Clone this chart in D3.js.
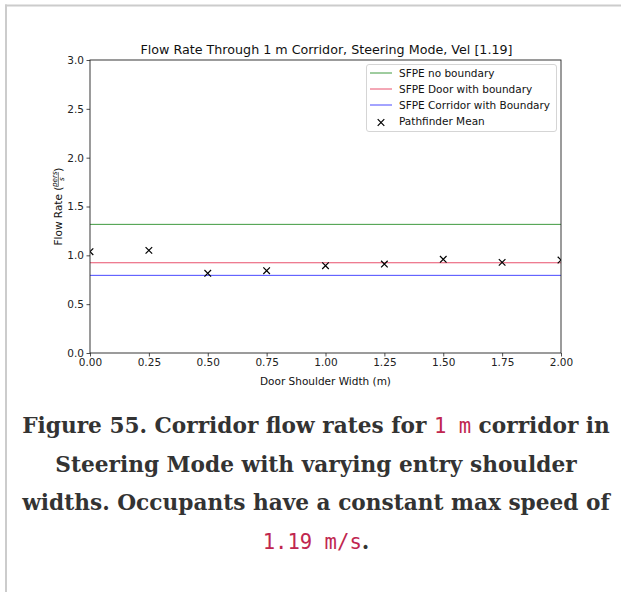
<!DOCTYPE html>
<html>
<head>
<meta charset="utf-8">
<script src="https://cdn.jsdelivr.net/npm/d3@7"></script>
<style>
  html, body { margin: 0; padding: 0; background: #fff; }
  svg { display: block; }
</style>
</head>
<body>
<svg id="chart" width="621" height="592"></svg>
<script>
// ---- data ----
const shoulderWidths = [0.00, 0.25, 0.50, 0.75, 1.00, 1.25, 1.50, 1.75, 2.00];
const pathfinderMean = [1.037, 1.051, 0.816, 0.843, 0.894, 0.911, 0.959, 0.928, 0.952];
const sfpeNames = ["SFPE no boundary", "SFPE Door with boundary", "SFPE Corridor with Boundary"];
const sfpeValues = [1.317, 0.924, 0.795];
const sfpeColors = ["#3f9a3f", "#e8506c", "#4848ff"];
const xTicks = [0, 0.25, 0.5, 0.75, 1.0, 1.25, 1.5, 1.75, 2.0];
const yTicks = [0, 0.5, 1.0, 1.5, 2.0, 2.5, 3.0];
const titleText = "Flow Rate Through 1 m Corridor, Steering Mode, Vel [1.19]";
const xLabelText = "Door Shoulder Width (m)";
const meanLabel = "Pathfinder Mean";

const svg = d3.select("#chart");
const sans = "DejaVu Sans, sans-serif";
const fs = 10.5;

// page frame
svg.append("line").attr("x1", 5).attr("x2", 621).attr("y1", 5.5).attr("y2", 5.5)
  .attr("stroke", "#cccccc").attr("stroke-width", 2);
svg.append("line").attr("x1", 6).attr("x2", 6).attr("y1", 4.5).attr("y2", 592)
  .attr("stroke", "#cccccc").attr("stroke-width", 2);

const L = 90, R = 561, T = 60, B = 353;
const x = d3.scaleLinear().domain([0, 2]).range([L, R]);
const y = d3.scaleLinear().domain([0, 3]).range([B, T]);

// reference lines
const g = svg.append("g");
sfpeValues.forEach((v, i) => {
  g.append("line").attr("x1", x(0)).attr("x2", x(2)).attr("y1", y(v)).attr("y2", y(v))
    .attr("stroke", sfpeColors[i]).attr("stroke-width", 1);
});

// markers
svg.append("defs").append("clipPath").attr("id", "plotclip")
  .append("rect").attr("x", L).attr("y", T).attr("width", R - L).attr("height", B - T);
const mk = 3.3;
const pts = g.append("g").attr("clip-path", "url(#plotclip)");
shoulderWidths.forEach((w, i) => {
  const cx = x(w), cy = y(pathfinderMean[i]);
  pts.append("path")
    .attr("d", `M${cx - mk},${cy - mk}L${cx + mk},${cy + mk}M${cx - mk},${cy + mk}L${cx + mk},${cy - mk}`)
    .attr("stroke", "#000").attr("stroke-width", 1.2).attr("fill", "none");
});

// axes
const xAxis = svg.append("g").attr("transform", `translate(0,${B})`)
  .call(d3.axisBottom(x).tickValues(xTicks).tickFormat(d3.format(".2f")).tickSize(3.5).tickPadding(2.5));
const yAxis = svg.append("g").attr("transform", `translate(${L},0)`)
  .call(d3.axisLeft(y).tickValues(yTicks).tickFormat(d3.format(".1f")).tickSize(3.5).tickPadding(2.5));
[xAxis, yAxis].forEach(a => {
  a.select(".domain").remove();
  a.selectAll("text").attr("font-family", sans).attr("font-size", fs).attr("fill", "#222");
  a.selectAll("line").attr("stroke", "#222").attr("stroke-width", 0.8);
});
// spines
svg.append("rect").attr("x", L).attr("y", T).attr("width", R - L).attr("height", B - T)
  .attr("fill", "none").attr("stroke", "#222").attr("stroke-width", 0.9);

// title
svg.append("text").attr("x", (L + R) / 2 + 1).attr("y", 53.5).attr("text-anchor", "middle")
  .attr("font-family", sans).attr("font-size", 12.7).attr("fill", "#111").text(titleText);

// x label
svg.append("text").attr("x", (L + R) / 2).attr("y", 385).attr("text-anchor", "middle")
  .attr("font-family", sans).attr("font-size", fs).attr("fill", "#111").text(xLabelText);

// y label with fraction
const yl = svg.append("g").attr("transform", `translate(62,${(T + B) / 2}) rotate(-90)`);
const part1 = yl.append("text").attr("font-family", sans).attr("font-size", fs).attr("fill", "#111").text("Flow Rate (");
const w1 = part1.node().getComputedTextLength();
const fracW = 15;
const part3 = yl.append("text").attr("font-family", sans).attr("font-size", fs).attr("fill", "#111").text(")");
const w3 = part3.node().getComputedTextLength();
const total = w1 + fracW + w3;
const x0 = -total / 2;
part1.attr("x", x0);
part3.attr("x", x0 + w1 + fracW);
yl.append("text").attr("x", x0 + w1 + fracW / 2).attr("y", -5.4).attr("text-anchor", "middle")
  .attr("font-family", sans).attr("font-style", "italic").attr("font-size", 7.2).attr("fill", "#111").text("pers");
yl.append("line").attr("x1", x0 + w1 + 0.5).attr("x2", x0 + w1 + fracW - 0.5)
  .attr("y1", -3.7).attr("y2", -3.7).attr("stroke", "#111").attr("stroke-width", 0.6);
yl.append("text").attr("x", x0 + w1 + fracW / 2).attr("y", 2.3).attr("text-anchor", "middle")
  .attr("font-family", sans).attr("font-style", "italic").attr("font-size", 7.2).attr("fill", "#111").text("s");

// legend
const lg = svg.append("g");
lg.append("rect").attr("x", 366.5).attr("y", 64.5).attr("width", 190).attr("height", 67).attr("rx", 2.5)
  .attr("fill", "#fff").attr("fill-opacity", 0.85).attr("stroke", "#d0d0d0").attr("stroke-width", 0.9);
const rowY = [73, 89, 105, 121];
sfpeNames.forEach((n, i) => {
  lg.append("line").attr("x1", 370).attr("x2", 392).attr("y1", rowY[i]).attr("y2", rowY[i])
    .attr("stroke", sfpeColors[i]).attr("stroke-width", 1);
  lg.append("text").attr("x", 399).attr("y", rowY[i] + 3.8).attr("font-family", sans)
    .attr("font-size", fs).attr("fill", "#111").text(n);
});
{
  const cx = 381, cy = rowY[3] + 1.5;
  lg.append("path")
    .attr("d", `M${cx - mk},${cy - mk}L${cx + mk},${cy + mk}M${cx - mk},${cy + mk}L${cx + mk},${cy - mk}`)
    .attr("stroke", "#000").attr("stroke-width", 1.2);
  lg.append("text").attr("x", 399).attr("y", rowY[3] + 3.8).attr("font-family", sans)
    .attr("font-size", fs).attr("fill", "#111").text(meanLabel);
}

// caption
const captionLines = [
  [["Figure 55. Corridor flow rates for ", 0], ["1 m", 1], [" corridor in", 0]],
  [["Steering Mode with varying entry shoulder", 0]],
  [["widths. Occupants have a constant max speed of", 0]],
  [["1.19 m/s", 1], [".", 0]]
];
const capBase = [433, 471.5, 510, 548.5];
const capFont = 22;
const cap = svg.append("g");
captionLines.forEach((parts, li) => {
  const t = cap.append("text").attr("x", 316).attr("y", capBase[li]).attr("text-anchor", "middle");
  parts.forEach(([s, code]) => {
    const ts = t.append("tspan").text(s);
    if (code) {
      ts.attr("font-family", "DejaVu Sans Mono, monospace").attr("font-weight", "normal")
        .attr("fill", "#c0264f").attr("font-size", capFont * 0.95);
    } else {
      ts.attr("font-family", "DejaVu Serif, serif").attr("font-weight", "bold")
        .attr("fill", "#333").attr("font-size", capFont);
    }
  });
});
// fit first line to reference width
const firstW = cap.select("text").node().getComputedTextLength();
const scale = 588 / firstW;
cap.selectAll("tspan").each(function() {
  const f = +this.getAttribute("font-size");
  this.setAttribute("font-size", f * scale);
});
</script>
</body>
</html>
